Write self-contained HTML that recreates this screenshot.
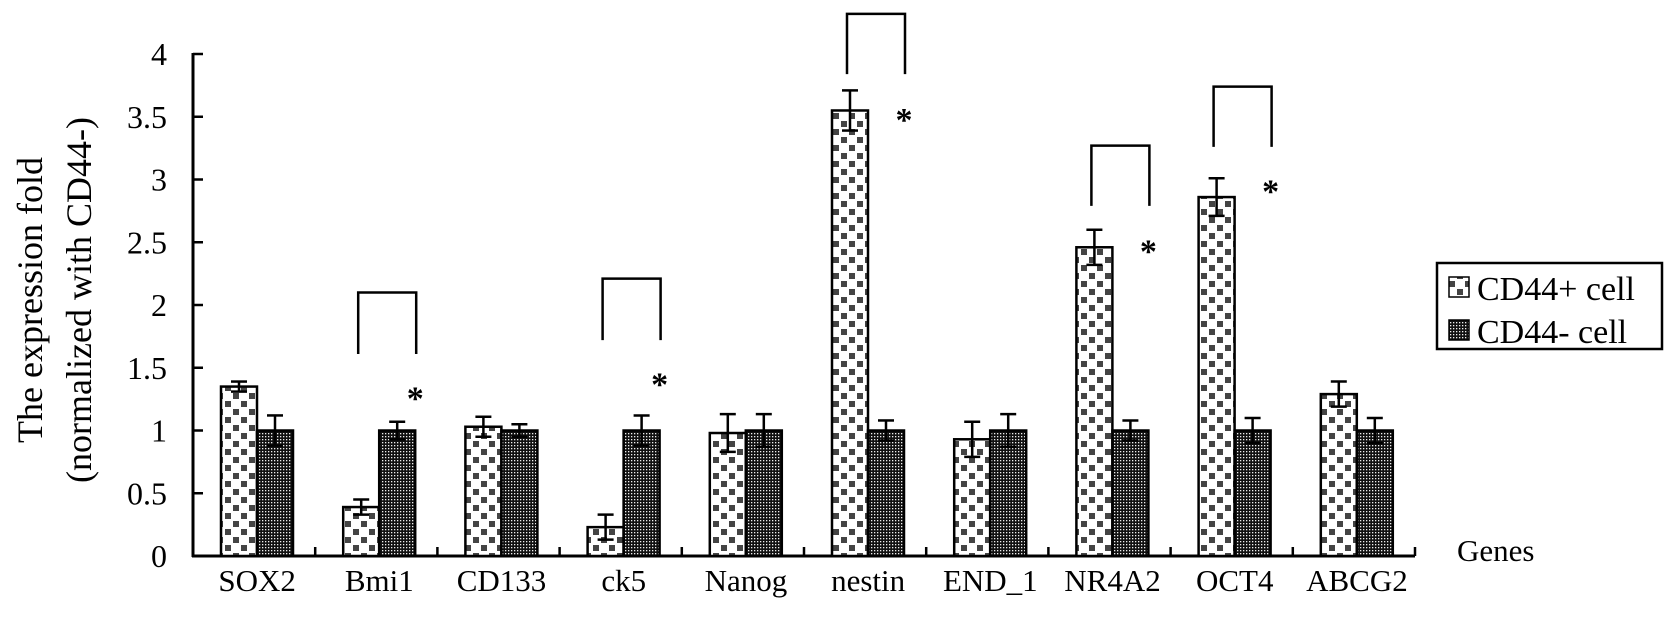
<!DOCTYPE html>
<html><head><meta charset="utf-8"><style>
html,body{margin:0;padding:0;background:#fff;}
svg{display:block;}
text{font-family:"Liberation Serif","Times New Roman",serif;}
</style></head><body>
<svg id="chart" width="1677" height="638" viewBox="0 0 1677 638">
<defs>
<pattern id="pPos" width="16" height="16" patternUnits="userSpaceOnUse">
<rect width="16" height="16" fill="#fff"/>
<rect x="1" y="1" width="6" height="6" fill="#444"/>
<rect x="9" y="9" width="6" height="6" fill="#444"/>
</pattern>
<pattern id="pNeg" width="3" height="3" patternUnits="userSpaceOnUse">
<rect width="3" height="3" fill="#111"/>
<rect x="1" y="1" width="1.3" height="1.3" fill="#eee"/>
</pattern>
</defs>
<g font-size="36" text-anchor="middle" font-family="Liberation Serif, serif">
<text x="42" y="300" transform="rotate(-90 42 300)">The expression fold</text>
<text x="91" y="300" transform="rotate(-90 91 300)">(normalized with CD44-)</text>
</g>
<g id="plot"></g>
<g>
<rect x="1437" y="263" width="225" height="86" fill="#fff" stroke="#000" stroke-width="2.5"/>
<rect x="1449" y="277" width="20" height="20" fill="url(#pPos)" stroke="#000" stroke-width="1.5"/>
<text x="1477" y="300" font-size="34">CD44+ cell</text>
<rect x="1449" y="320" width="20" height="20" fill="url(#pNeg)" stroke="#000" stroke-width="1.5"/>
<text x="1477" y="343" font-size="34">CD44- cell</text>
</g>
<text x="1457" y="561" font-size="31">Genes</text>
</svg>
<script>
const categories = ["SOX2","Bmi1","CD133","ck5","Nanog","nestin","END_1","NR4A2","OCT4","ABCG2"];
const posValues = [1.35,0.39,1.03,0.23,0.98,3.55,0.93,2.46,2.86,1.29];
const posErrors = [0.04,0.06,0.08,0.10,0.15,0.16,0.14,0.14,0.15,0.10];
const negValues = [1.0,1.0,1.0,1.0,1.0,1.0,1.0,1.0,1.0,1.0];
const negErrors = [0.12,0.07,0.05,0.12,0.13,0.08,0.13,0.08,0.10,0.10];
const yTicks = [0,0.5,1,1.5,2,2.5,3,3.5,4];
const yTickLabels = ["0","0.5","1","1.5","2","2.5","3","3.5","4"];
// significance annotations: category index, bracket top, bracket leg bottom, star value
const sigCats = [1,3,5,7,8];
const sigTop = [2.1,2.21,4.32,3.27,3.74];
const sigLeg = [1.61,1.72,3.84,2.79,3.26];
const sigStar = [1.28,1.39,3.5,2.45,2.93];

const X0 = 193, SLOT = 122.2, Y0 = 556, PXU = 125.5;
const xSlot = i => X0 + i * SLOT;
const y = v => Y0 - v * PXU;
const NS = "http://www.w3.org/2000/svg";
const plot = document.getElementById("plot");
function mk(tag, attrs, parent) {
  const e = document.createElementNS(NS, tag);
  for (const k in attrs) e.setAttribute(k, attrs[k]);
  (parent || plot).appendChild(e);
  return e;
}
let ax = mk("line", {x1: X0, y1: y(4) - 1, x2: X0, y2: Y0 + 1, stroke: "#000", "stroke-width": 3});


let xa = mk("line", {x1: X0 - 1, y1: Y0, x2: xSlot(10), y2: Y0, stroke: "#000", "stroke-width": 3});


yTicks.forEach((t, i) => {
  const tk = mk("line", {x1: X0, y1: y(t), x2: X0 + 10, y2: y(t), stroke: "#000", "stroke-width": 2.5});
  
  
  const tl = mk("text", {x: 167, y: y(t) + 11, "font-size": 32, "text-anchor": "end"});
  tl.textContent = yTickLabels[i];
  
  
});
for (let i = 1; i <= 10; i++) {
  const tk = mk("line", {x1: xSlot(i), y1: Y0, x2: xSlot(i), y2: Y0 - 9, stroke: "#000", "stroke-width": 2.5});
  
  
}
const BW = 36, OFF = 28;
function errBar(cx, v, e) {
  const g = mk("g", {stroke: "#000", "stroke-width": 2.5});
  mk("line", {x1: cx, y1: y(v + e), x2: cx, y2: y(v - e)}, g);
  mk("line", {x1: cx - 8, y1: y(v + e), x2: cx + 8, y2: y(v + e)}, g);
  mk("line", {x1: cx - 8, y1: y(v - e), x2: cx + 8, y2: y(v - e)}, g);
  return g;
}
categories.forEach((c, i) => {
  const s = xSlot(i);
  const b1 = mk("rect", {x: s + OFF, y: y(posValues[i]), width: BW, height: posValues[i] * PXU, fill: "url(#pPos)", stroke: "#000", "stroke-width": 2.5});
  
  
  const b2 = mk("rect", {x: s + OFF + BW, y: y(negValues[i]), width: BW, height: negValues[i] * PXU, fill: "url(#pNeg)", stroke: "#000", "stroke-width": 2.5});
  
  
  const e1 = errBar(s + OFF + BW / 2, posValues[i], posErrors[i]);
  
  
  const e2 = errBar(s + OFF + BW * 1.5, negValues[i], negErrors[i]);
  
  
  const lbl = mk("text", {x: s + SLOT / 2 + 3, y: 591, "font-size": 31, "text-anchor": "middle"});
  lbl.textContent = c;
  
  
});
sigCats.forEach((ci, k) => {
  const s = xSlot(ci);
  const lx = s + OFF + BW / 2 - 3, rx = lx + 58;
  const br = mk("polyline", {points: `${lx},${y(sigLeg[k])} ${lx},${y(sigTop[k])} ${rx},${y(sigTop[k])} ${rx},${y(sigLeg[k])}`, fill: "none", stroke: "#000", "stroke-width": 2.5});
  
  
  const st = mk("text", {x: rx - 1, y: y(sigStar[k]) + 14, "font-size": 34, "font-weight": "bold", "text-anchor": "middle"});
  st.textContent = "*";
  
  
});
</script>
</body></html>
